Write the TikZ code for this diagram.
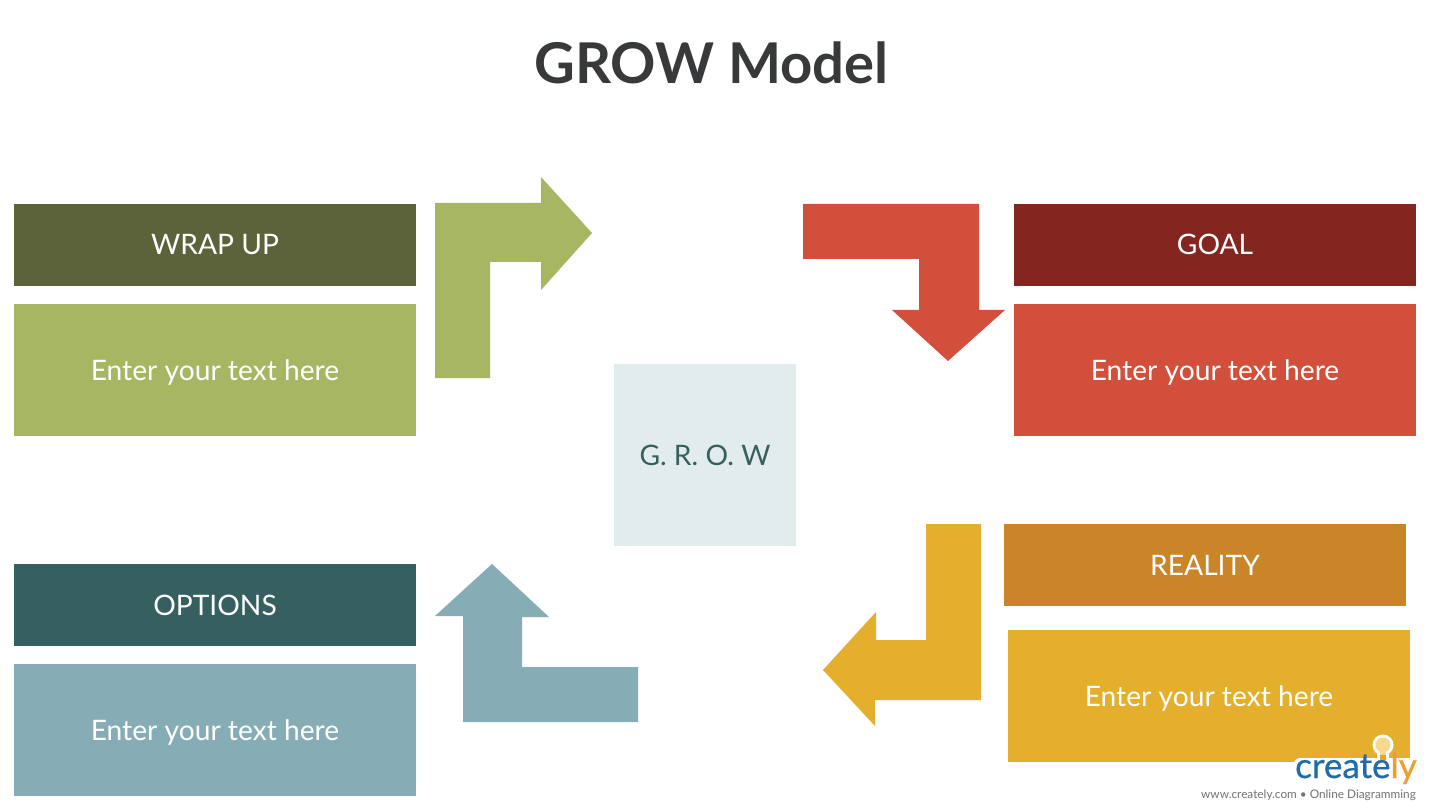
\documentclass[tikz,border=0pt]{standalone}
\usepackage{fontspec}
\setmainfont{Lato}
\usetikzlibrary{positioning}

\definecolor{wrapdark}{HTML}{5C6239}
\definecolor{wraplight}{HTML}{A6B663}
\definecolor{goaldark}{HTML}{84261F}
\definecolor{goallight}{HTML}{D14F3B}
\definecolor{realdark}{HTML}{C98528}
\definecolor{reallight}{HTML}{E3AF2C}
\definecolor{optdark}{HTML}{36605F}
\definecolor{optlight}{HTML}{86ADB5}
\definecolor{centerfill}{HTML}{E2ECEC}
\definecolor{titletext}{HTML}{37393A}
\definecolor{logoblue}{HTML}{1F6CA6}
\definecolor{logoorange}{HTML}{EBA02F}
\definecolor{bulbfill}{HTML}{F6D98E}

\begin{document}
\begin{tikzpicture}[x=1pt,y=-1pt,
	head/.style={rectangle,inner sep=0pt,outer sep=0pt,minimum width=402pt,minimum height=82pt,text=white,text height=26pt,text depth=6pt,font=\fontsize{28.2}{32}\selectfont},
	textbox/.style={rectangle,inner sep=0pt,outer sep=0pt,minimum width=402pt,minimum height=132pt,text=white,text height=26pt,text depth=6pt,font=\fontsize{28.2}{32}\selectfont},
	turn/.style={line join=miter,draw=none}]

	\useasboundingbox[fill=white] (0,0) rectangle (1430,810);

	\node[text=titletext,font=\fontsize{56.2}{66}\selectfont\bfseries] (title) at (711.5,63) {GROW Model};

	% left column
	\node[head,fill=wrapdark] (wrapup) at (215,245) {WRAP UP};
	\node[textbox,fill=wraplight,below=18pt of wrapup] (wrapuptext) {Enter your text here};
	\node[head,fill=optdark] (options) at (215,605) {OPTIONS};
	\node[textbox,fill=optlight,below=18pt of options] (optionstext) {Enter your text here};

	% right column
	\node[head,fill=goaldark] (goal) at (1215,245) {GOAL};
	\node[textbox,fill=goallight,below=18pt of goal] (goaltext) {Enter your text here};
	\node[head,fill=realdark] (reality) at (1205,565) {REALITY};
	\node[textbox,fill=reallight] (realitytext) at (1209,696) {Enter your text here};

	\node[rectangle,inner sep=0pt,minimum size=182pt,fill=centerfill,text=optdark,text height=26pt,text depth=6pt,font=\fontsize{28.2}{32}\selectfont] (grow) at (705,455) {G. R. O. W};

	% arrows
	\fill[turn,wraplight] (435,203) -- (541,203) -- (541,177) -- (592,233) -- (541,290) -- (541,262) -- (490,262) -- (490,378) -- (435,378) -- cycle;
	\fill[turn,goallight] (803,204) -- (979,204) -- (979,310) -- (1005,310) -- (948,361) -- (892,310) -- (919,310) -- (919,259) -- (803,259) -- cycle;
	\fill[turn,reallight] (926,524) -- (981,524) -- (981,700) -- (875,700) -- (875,726) -- (823,670) -- (876,612) -- (876,640) -- (926,640) -- cycle;
	\fill[turn,optlight] (492,564) -- (549,617) -- (522,617) -- (522,667) -- (638,667) -- (638,722) -- (463,722) -- (463,616) -- (435,616) -- cycle;

	% logo
	\fill[white,rounded corners=6pt] (1294,758) rectangle (1416,790);
	\fill[white] (1383,745) circle (10.5pt);
	\fill[white] (1377,750) rectangle (1389,760);
	\node[inner sep=0pt,anchor=base east,font=\fontsize{35}{40}\selectfont\addfontfeature{FakeBold=0.6}] (logo) at (1417,778) {\textcolor{logoblue}{create}\textcolor{logoorange}{ly}};
	\fill[white] (1377,750) rectangle (1389,757);
	\fill[bulbfill] (1383,745) circle (7.5pt);
	\fill[bulbfill] (1380,750) rectangle (1386,757);
	\fill[logoorange] (1380,755) rectangle (1386,760);
	\node[inner sep=0pt,anchor=base east,text=black!55,font=\fontsize{11.8}{13}\selectfont] (logourl) at (1416,798) {www.creately.com • Online Diagramming};
\end{tikzpicture}
\end{document}
